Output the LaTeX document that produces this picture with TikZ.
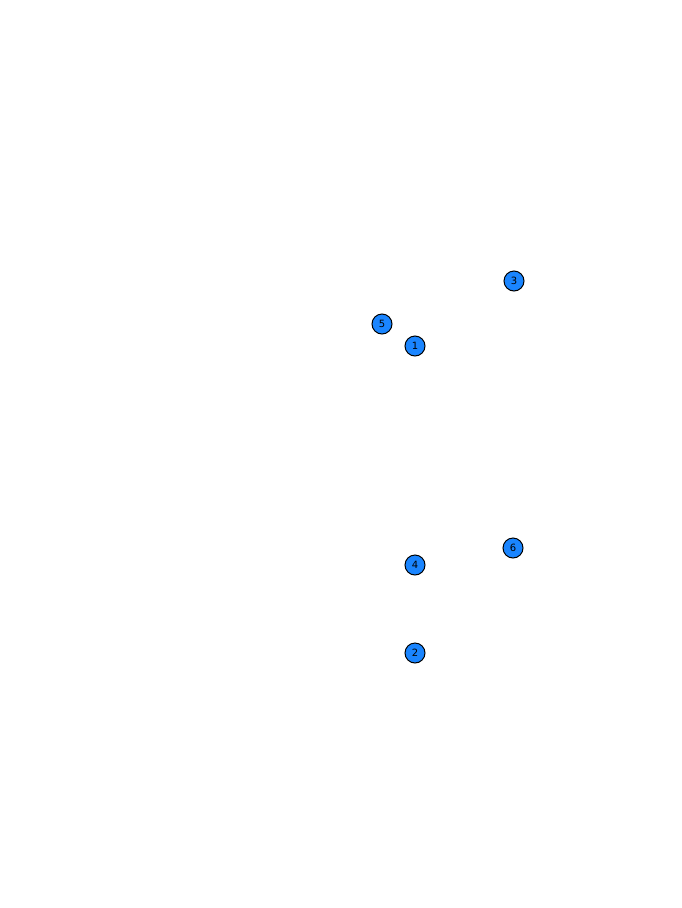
\documentclass[tikz,border=0pt]{standalone}
\usepackage{fontspec}
\setmainfont{DejaVu Sans}
\definecolor{mk}{HTML}{1A85FF}
\begin{document}
\begin{tikzpicture}[x=1pt,y=-1pt,
  marker/.style={circle,draw=black,line width=1pt,fill=mk,minimum size=20pt,inner sep=0pt,font=\fontsize{10}{10}\selectfont}]
\useasboundingbox (0,0) rectangle (682,908);
\node[marker] (n3) at (514,281) {3};
\node[marker] (n5) at (382,324) {5};
\node[marker] (n1) at (415,346) {1};
\node[marker] (n6) at (513,548) {6};
\node[marker] (n4) at (415,565) {4};
\node[marker] (n2) at (415,653) {2};
\end{tikzpicture}
\end{document}
